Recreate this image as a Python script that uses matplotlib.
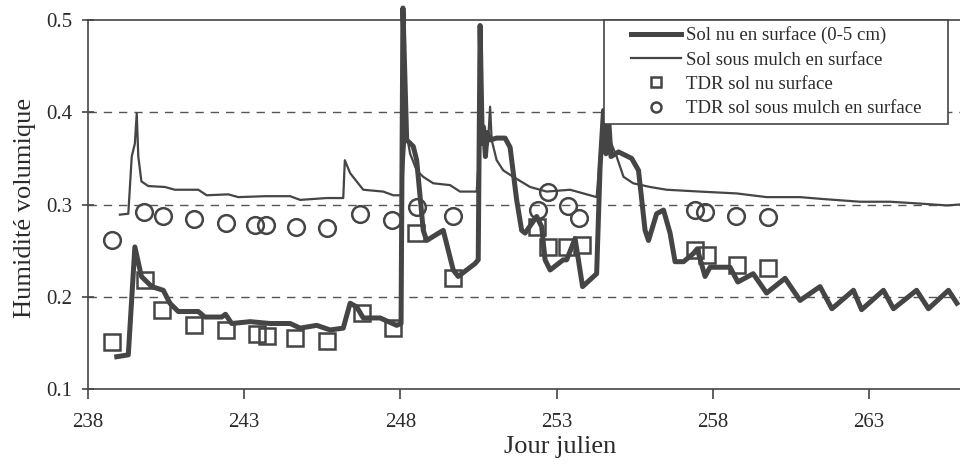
import numpy as np
import matplotlib
matplotlib.use("Agg")
import matplotlib.pyplot as plt
from matplotlib.patches import Rectangle

# Sol nu en surface (0-5 cm), modelled
jour_nu = [238.92, 239.29, 239.50, 239.71, 240.04, 240.41, 240.62, 240.89, 241.53, 241.74,
           242.28, 242.40, 242.60, 243.19, 243.83, 244.47, 244.79, 245.32, 245.75, 246.17,
           246.39, 246.60, 246.81, 247.35, 247.88, 248.02, 248.08, 248.20, 248.41, 248.52,
           248.73, 248.84, 249.37, 249.69, 249.85, 250.39, 250.49, 250.55, 250.62, 250.66,
           250.72, 250.78, 250.87, 251.08, 251.35, 251.51, 251.72, 251.88, 251.99, 252.36,
           252.52, 252.63, 252.79, 253.21, 253.32, 253.59, 253.83, 254.28, 254.39, 254.50,
           254.58, 254.66, 254.74, 254.98, 255.40, 255.62, 255.83, 255.94, 256.20, 256.42,
           256.63, 256.79, 257.06, 257.38, 257.50, 257.75, 257.91, 258.55, 258.80, 259.29,
           259.72, 260.31, 260.79, 261.43, 261.81, 262.50, 262.76, 263.46, 263.78, 264.52,
           264.90, 265.54, 265.81]
hum_nu = [0.135, 0.137, 0.254, 0.222, 0.211, 0.207, 0.193, 0.184, 0.184, 0.178,
          0.178, 0.181, 0.171, 0.173, 0.171, 0.171, 0.166, 0.169, 0.164, 0.166,
          0.193, 0.189, 0.177, 0.177, 0.169, 0.171, 0.513, 0.370, 0.363, 0.348,
          0.272, 0.261, 0.272, 0.229, 0.222, 0.236, 0.240, 0.494, 0.366, 0.384,
          0.352, 0.378, 0.370, 0.372, 0.372, 0.362, 0.305, 0.272, 0.269, 0.287,
          0.276, 0.240, 0.229, 0.240, 0.240, 0.263, 0.211, 0.225, 0.341, 0.402,
          0.355, 0.395, 0.352, 0.357, 0.350, 0.337, 0.272, 0.261, 0.290, 0.294,
          0.269, 0.238, 0.238, 0.247, 0.252, 0.222, 0.232, 0.232, 0.216, 0.225,
          0.204, 0.220, 0.196, 0.211, 0.187, 0.207, 0.186, 0.207, 0.187, 0.207,
          0.187, 0.207, 0.193]

# Sol sous mulch en surface, modelled
jour_mulch = [239.02, 239.29, 239.40, 239.50, 239.56, 239.61, 239.71, 239.93, 240.46, 240.78,
              241.53, 241.80, 242.49, 242.81, 243.67, 244.47, 244.79, 245.64, 246.17, 246.22,
              246.39, 246.81, 247.45, 247.77, 248.04, 248.15, 248.22, 248.31, 248.52, 248.73,
              249.05, 249.59, 249.91, 250.44, 250.55, 250.80, 250.87, 250.92, 251.08, 251.29,
              251.61, 252.15, 252.68, 253.43, 254.28, 254.45, 254.60, 254.70, 254.92, 255.14,
              255.45, 255.99, 256.52, 257.59, 258.76, 259.72, 260.79, 261.50, 262.71, 263.67,
              264.63, 265.48, 265.91]
hum_mulch = [0.289, 0.290, 0.352, 0.366, 0.399, 0.352, 0.325, 0.320, 0.319, 0.316,
             0.316, 0.310, 0.311, 0.308, 0.309, 0.309, 0.305, 0.307, 0.307, 0.348,
             0.334, 0.316, 0.314, 0.310, 0.310, 0.370, 0.372, 0.355, 0.337, 0.330,
             0.323, 0.321, 0.314, 0.314, 0.370, 0.365, 0.406, 0.370, 0.348, 0.337,
             0.330, 0.319, 0.314, 0.316, 0.308, 0.380, 0.402, 0.370, 0.352, 0.330,
             0.323, 0.319, 0.316, 0.314, 0.312, 0.308, 0.308, 0.306, 0.303, 0.303,
             0.301, 0.299, 0.300]

# TDR measurements, bare soil
jour_tdr_nu = [238.76, 239.82, 240.36, 241.40, 242.41, 243.40, 243.72, 244.63, 245.64, 246.76,
               247.77, 248.49, 249.69, 252.37, 252.73, 253.32, 253.80, 257.43, 257.80, 258.76,
               259.78]
hum_tdr_nu = [0.151, 0.218, 0.186, 0.169, 0.164, 0.160, 0.157, 0.155, 0.152, 0.182,
              0.166, 0.269, 0.220, 0.276, 0.254, 0.254, 0.256, 0.251, 0.245, 0.234,
              0.231]

# TDR measurements, soil under mulch
jour_tdr_mulch = [238.78, 239.80, 240.39, 241.40, 242.41, 243.35, 243.70, 244.66, 245.64, 246.71,
                  247.72, 248.52, 249.68, 252.41, 252.73, 253.37, 253.73, 257.43, 257.75, 258.74,
                  259.75]
hum_tdr_mulch = [0.261, 0.292, 0.287, 0.284, 0.280, 0.278, 0.278, 0.276, 0.275, 0.290,
                 0.283, 0.297, 0.287, 0.294, 0.314, 0.298, 0.285, 0.294, 0.292, 0.287,
                 0.286]

x_ticks = [238, 243, 248, 253, 258, 263]
y_ticks = [0.1, 0.2, 0.3, 0.4, 0.5]

plt.rcParams['font.family'] = ['Liberation Serif', 'DejaVu Serif']
col = '#454545'
txt = '#2a2a2a'

fig = plt.figure(figsize=(9.6, 4.66), dpi=100)
ax = fig.add_axes([88 / 960, 77 / 466, 872 / 960, 369 / 466])

for yv in [0.2, 0.3, 0.4]:
    ax.axhline(yv, color='#555555', lw=1.0, ls=(0, (6, 5)), zorder=0)

ax.plot(jour_nu, hum_nu, color=col, lw=3.6, solid_joinstyle='round',
        label='Sol nu en surface (0-5 cm)', clip_on=False, zorder=3)
ax.plot(jour_mulch, hum_mulch, color=col, lw=1.6, label='Sol sous mulch en surface', zorder=3)
ax.plot(jour_tdr_nu, hum_tdr_nu, ls='none', marker='s', ms=12, mfc='none', mec=col, mew=1.8,
        label='TDR sol nu surface', zorder=2)
ax.plot(jour_tdr_mulch, hum_tdr_mulch, ls='none', marker='o', ms=12, mfc='none', mec=col, mew=1.8,
        label='TDR sol sous mulch en surface', zorder=2)

ax.set_xlim(238, 265.91)
ax.set_ylim(0.1, 0.5)
ax.set_xticks(x_ticks)
ax.set_yticks(y_ticks)
ax.set_yticklabels([f"{v:.1f}" for v in y_ticks])
ax.tick_params(labelsize=15, colors=txt)
ax.tick_params(axis='x', direction='out', length=7, width=1.2, pad=10, color=col)
ax.tick_params(axis='y', direction='inout', length=9, width=1.2, pad=7, color=col)
ax.spines['right'].set_visible(False)
for s in ['left', 'bottom', 'top']:
    ax.spines[s].set_color(col)
    ax.spines[s].set_linewidth(1.2)

ax.set_xlabel('Jour julien', fontsize=19, color=txt)
ax.xaxis.set_label_coords((560 - 88) / 872, (389 - 436) / 369)
ax.set_ylabel('Humidité volumique', fontsize=19, color=txt)
ax.yaxis.set_label_coords((36 - 88) / 872, (389 - 208) / 369)

leg = ax.legend(loc='upper right', bbox_to_anchor=((928 - 88) / 872, 1.0), borderaxespad=0,
                fontsize=13.5, frameon=False, handlelength=2.7, handletextpad=0.25,
                labelspacing=0.38, markerscale=0.6, borderpad=0.35)
for t in leg.get_texts():
    t.set_color(txt)
leg.set_zorder(6)

# legend frame: wide side margins, tight top/bottom like the original
fig.canvas.draw()
bb = leg.get_window_extent()
ax.add_patch(Rectangle((bb.x0 - 20, bb.y0), bb.width + 40, bb.height,
                       transform=None, facecolor='white', edgecolor=col,
                       lw=1.2, zorder=5, clip_on=False))

fig.savefig('out.png', dpi=100)
